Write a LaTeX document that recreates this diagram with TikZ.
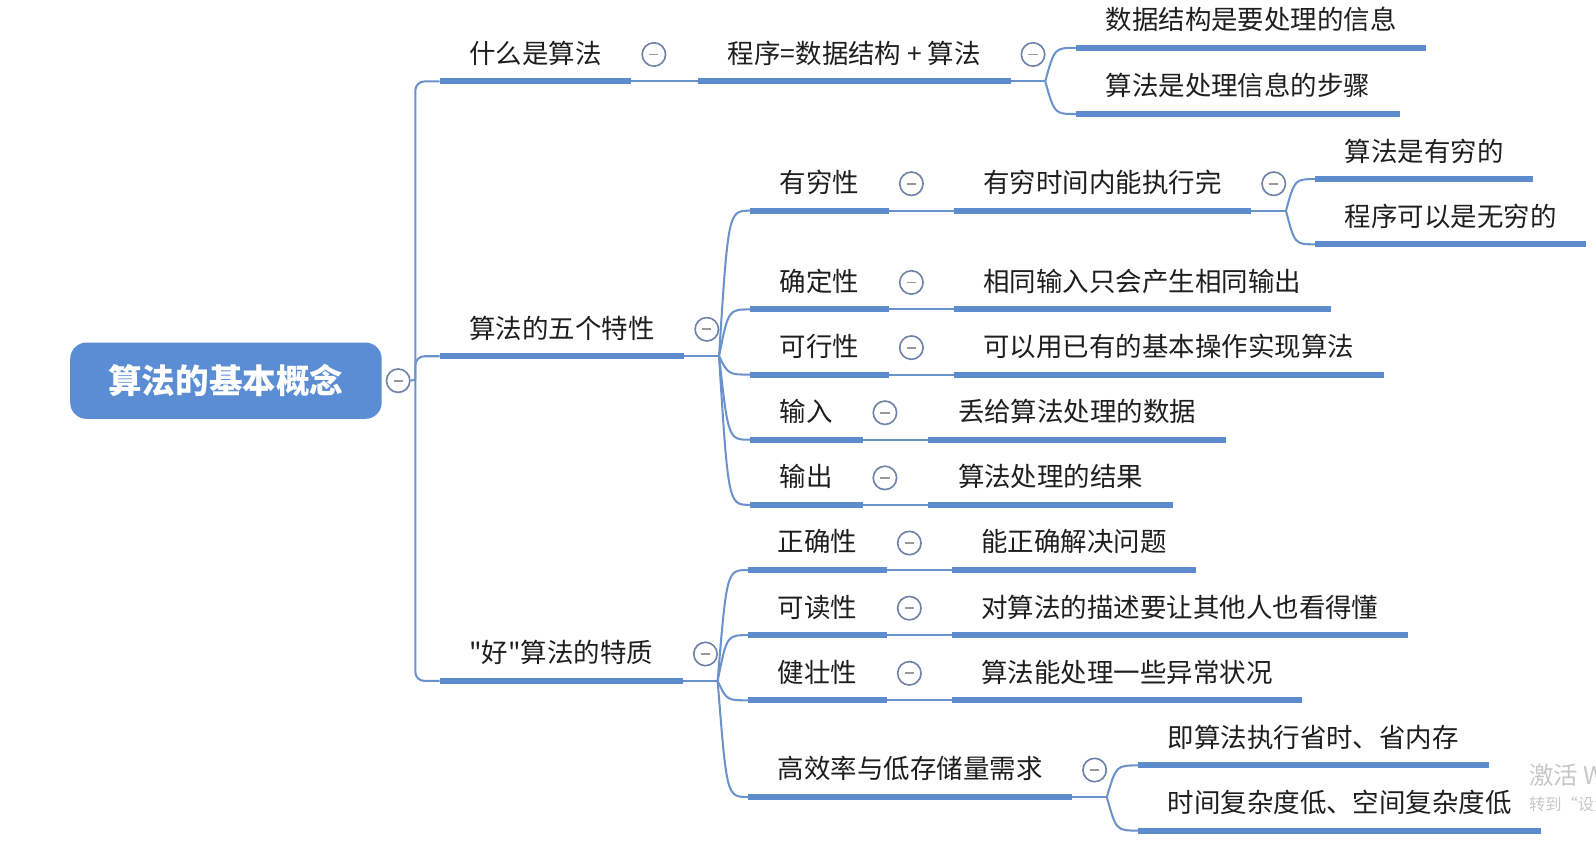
\documentclass[tikz,border=0pt]{standalone}
\usepackage{fontspec}
\setmainfont{Noto Sans CJK SC}[Ligatures=TeXOff]
\usepackage{tikz}
\usetikzlibrary{calc,positioning}

\definecolor{rootblue}{RGB}{90,141,212}
\definecolor{lineblue}{RGB}{92,140,205}
\definecolor{linkblue}{RGB}{108,146,204}
\definecolor{foldgray}{RGB}{112,130,168}
\definecolor{textgray}{RGB}{30,30,30}

\tikzset{
    topic/.style={font=\fontsize{26}{26}\selectfont, text=textgray, inner xsep=29pt, inner ysep=0pt,
        text height=20pt, text depth=17.5pt, anchor=south west},
    uline/.style={draw=lineblue, line width=6pt},
    link/.style={draw=linkblue, line width=2pt},
    fold/.style={circle, draw=foldgray, line width=1.6pt, fill=white, minimum size=23pt, inner sep=0pt},
    minus/.style={draw=gray!80, line width=1.8pt},
    mark text/.style={text=black!22, inner sep=0pt, anchor=west}
}

\begin{document}
\begin{tikzpicture}[x=1pt, y=-1pt]
    \useasboundingbox (0,0) rectangle (1568,828);

    % Root
    \node[fill=rootblue, rounded corners=16pt, minimum width=306pt, minimum height=75pt, text=white,
        font=\bfseries\fontsize{33}{33}\selectfont] (R) at (222,374) {算法的基本概念};
    \coordinate (Rb) at (408,373);

    % First level
    \node[topic] (A1) at (432,80) {什么是算法};
    \node[topic] (A2) at (432,350) {算法的五个特性};
    \node[topic] (A3) at (432,669) {"好"算法的特质};

    % What is an algorithm
    \node[topic] (B1) at (686,80) {程序=数据结构 + 算法};
    \node[topic] (C1) at (1057,47) {数据结构是要处理的信息};
    \node[topic] (C2) at (1057,112) {算法是处理信息的步骤};

    % Five properties
    \node[topic] (D1) at (737,207) {有穷性};
    \node[topic] (D2) at (737,304) {确定性};
    \node[topic] (D3) at (737,368) {可行性};
    \node[topic] (D4) at (737,432) {输入};
    \node[topic] (D5) at (737,496) {输出};
    \node[topic] (E1) at (937,207) {有穷时间内能执行完};
    \node[topic] (E2) at (937,304) {相同输入只会产生相同输出};
    \node[topic] (E3) at (937,368) {可以用已有的基本操作实现算法};
    \node[topic] (E4) at (912,432) {丢给算法处理的数据};
    \node[topic] (E5) at (912,496) {算法处理的结果};
    \node[topic] (F1) at (1292,176) {算法是有穷的};
    \node[topic] (F2) at (1292,240) {程序可以是无穷的};

    % Good algorithm
    \node[topic] (G1) at (735,560) {正确性};
    \node[topic] (G2) at (735,624) {可读性};
    \node[topic] (G3) at (735,688) {健壮性};
    \node[topic] (G4) at (735,783) {高效率与低存储量需求};
    \node[topic] (H1) at (935,560) {能正确解决问题};
    \node[topic] (H2) at (935,624) {对算法的描述要让其他人也看得懂};
    \node[topic] (H3) at (935,688) {算法能处理一些异常状况};
    \node[topic] (K1) at (1118,752) {即算法执行省时、省内存};
    \node[topic] (K2) at (1118,816) {时间复杂度低、空间复杂度低};

    % Root trunk
    \node[fold] (fR) at ([xshift=16pt]R.east) {};
    \draw[link] (fR.east) -- (Rb);
    \foreach \c in {A1,A2,A3}
        \draw[link, rounded corners=9pt] (Rb) |- (\c.south west);

    % Straight links
    \foreach \a/\b in {A1/B1, D1/E1, D2/E2, D3/E3, D4/E4, D5/E5, G1/H1, G2/H2, G3/H3}
        \draw[link] (\a.south east) -- (\b.south west);

    % Branching links
    \foreach \p/\kids in {B1/{C1,C2}, E1/{F1,F2}, A2/{D1,D2,D3,D4,D5}, A3/{G1,G2,G3,G4}, G4/{K1,K2}} {
        \coordinate (\p b) at ([xshift=34pt]\p.south east);
        \draw[link] (\p.south east) -- (\p b);
        \foreach \c in \kids
            \draw[link] (\p b) .. controls ($(\p b |- \c.south west)!0.3!(\c.south west)$) .. (\c.south west);
    }

    % Underlines
    \foreach \n in {A1,A2,A3,B1,C1,C2,D1,D2,D3,D4,D5,E1,E2,E3,E4,E5,F1,F2,G1,G2,G3,G4,H1,H2,H3,K1,K2}
        \draw[uline] (\n.south west) -- (\n.south east);

    % Fold circles
    \foreach \n in {A1,B1,A2,D1,D2,D3,D4,D5,E1,A3,G1,G2,G3,G4}
        \node[fold] (f\n) at ([shift={(22pt,26.5pt)}]\n.south east) {};
    \foreach \n in {R,A1,B1,A2,D1,D2,D3,D4,D5,E1,A3,G1,G2,G3,G4}
        \draw[minus] ([xshift=-4.5pt]f\n.center) -- ([xshift=4.5pt]f\n.center);

    % Screen watermark
    \begin{scope}
        \clip (0,0) rectangle (1568,828);
        \node[mark text, font=\fontsize{24}{24}\selectfont] (W1) at (1502,762) {激活 Windows};
        \node[mark text, font=\fontsize{16}{16}\selectfont] (W2) at (1502,790) {转到“设置”以激活 Windows。};
    \end{scope}
\end{tikzpicture}
\end{document}
